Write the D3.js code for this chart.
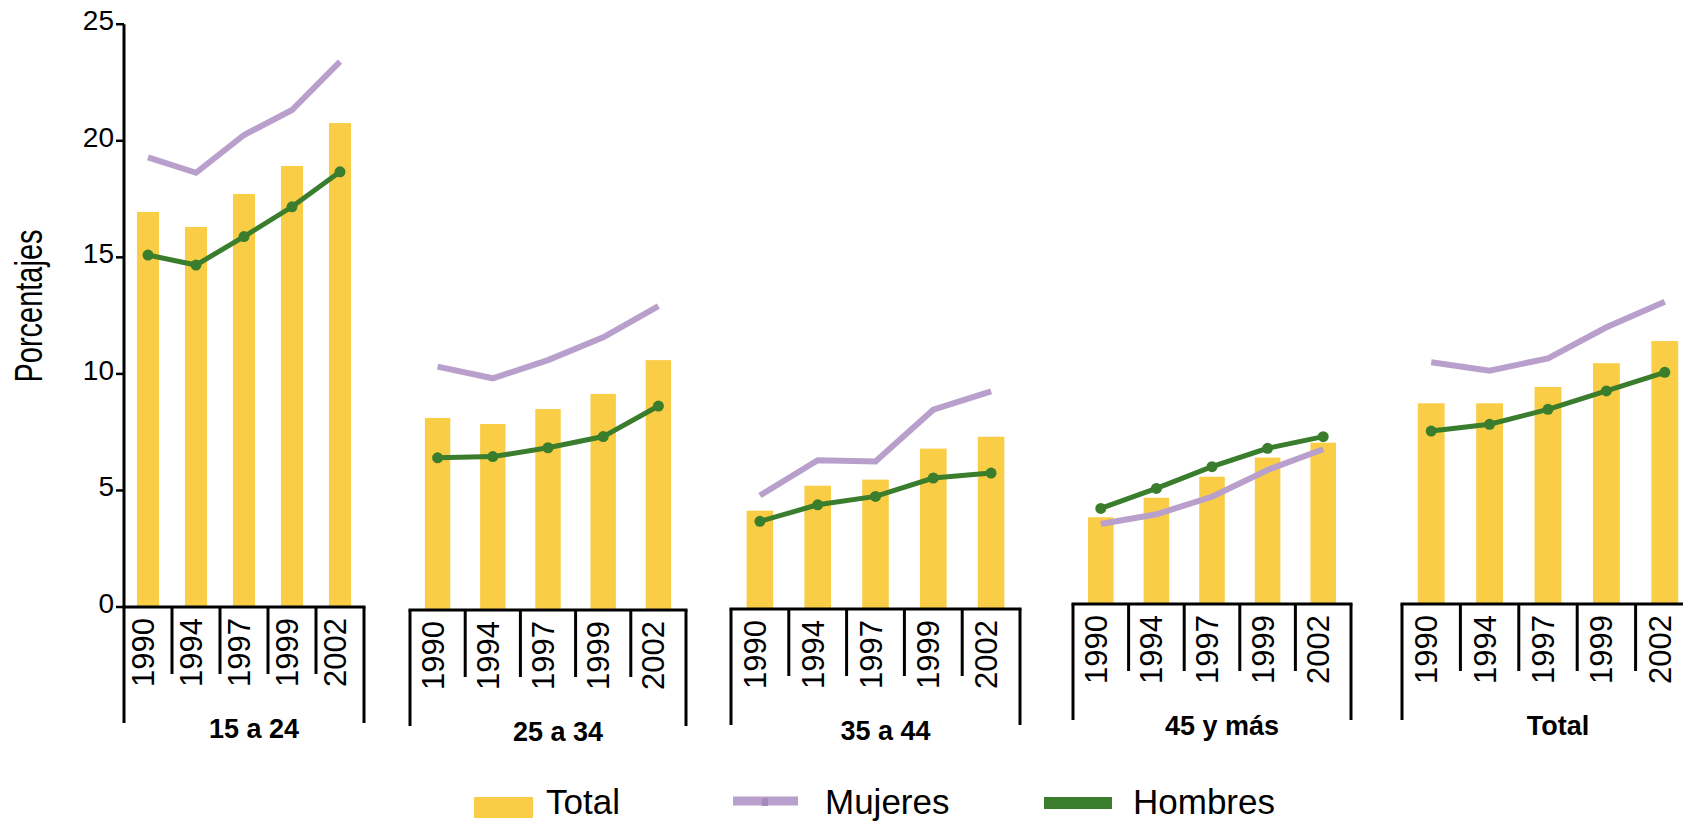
<!DOCTYPE html>
<html>
<head>
<meta charset="utf-8">
<script src="https://cdn.jsdelivr.net/npm/d3@7"></script>
<style>
  body { margin: 0; background: white; }
  text { font-family: "Liberation Sans", Arial, sans-serif; fill: black; }
</style>
</head>
<body>
<div id="main-section"></div>
<script>
const years = ["1990", "1994", "1997", "1999", "2002"];
const groups = ["15 a 24", "25 a 34", "35 a 44", "45 y más", "Total"];

const totalValues = [
  [16.95, 16.30, 17.72, 18.92, 20.76],
  [8.24, 7.98, 8.62, 9.27, 10.72],
  [4.22, 5.29, 5.55, 6.88, 7.39],
  [3.72, 4.56, 5.46, 6.28, 6.92],
  [8.61, 8.61, 9.31, 10.33, 11.28]
];
const mujeresValues = [
  [19.29, 18.63, 20.25, 21.32, 23.40],
  [10.44, 9.94, 10.72, 11.70, 13.04],
  [4.87, 6.38, 6.33, 8.55, 9.34],
  [3.43, 3.85, 4.60, 5.75, 6.64],
  [10.37, 10.01, 10.54, 11.87, 12.97]
];
const hombresValues = [
  [15.10, 14.67, 15.89, 17.17, 18.67],
  [6.53, 6.58, 6.96, 7.44, 8.75],
  [3.76, 4.47, 4.83, 5.62, 5.83],
  [4.10, 4.96, 5.89, 6.68, 7.18],
  [7.42, 7.71, 8.35, 9.14, 9.94]
];
const yTicks = [0, 5, 10, 15, 20, 25];
const legendLabels = ["Total", "Mujeres", "Hombres"];

// layout (pixels), one entry per panel -- the panels in the source are not evenly spaced
const panelLayout = [
  {x0: 124, x1: 364, base: 607},
  {x0: 410, x1: 686, base: 610},
  {x0: 731, x1: 1020, base: 609},
  {x0: 1073, x1: 1351, base: 604},
  {x0: 1402, x1: 1694, base: 604}
];
const W = 1683, H = 822;
const pxPerUnit = 23.31;
const colBar = "#f9cd46", colMuj = "#b9a0cc", colHom = "#3a7d2c";

const svg = d3.select("#main-section")
  .append("svg")
    .attr("width", W)
    .attr("height", H);

// y axis (drawn once, against first panel)
const yAxisScale = d3.scaleLinear()
  .domain([0, 25])
  .range([panelLayout[0].base, panelLayout[0].base - 25 * pxPerUnit]);

svg.append("line")
  .attr("x1", 124).attr("x2", 124)
  .attr("y1", yAxisScale(25)).attr("y2", yAxisScale(0))
  .attr("stroke", "black")
  .attr("stroke-width", 3);

svg.selectAll(".ytick")
  .data(yTicks).enter()
  .append("line")
    .attr("class", "ytick")
    .attr("x1", 116).attr("x2", 124)
    .attr("y1", function(d) { return yAxisScale(d); })
    .attr("y2", function(d) { return yAxisScale(d); })
    .attr("stroke", "black")
    .attr("stroke-width", 2.5);

svg.selectAll(".ylabel")
  .data(yTicks).enter()
  .append("text")
    .attr("class", "ylabel")
    .attr("x", 114)
    .attr("y", function(d) { return yAxisScale(d) + 6; })
    .attr("text-anchor", "end")
    .attr("font-size", 28)
    .text(function(d) { return d; });

svg.append("text")
  .attr("transform", "translate(42, 306) rotate(-90)")
  .attr("text-anchor", "middle")
  .attr("font-size", 38)
  .attr("textLength", 153)
  .attr("lengthAdjust", "spacingAndGlyphs")
  .text("Porcentajes");

// panels
groups.forEach(function(g, p) {
  const lay = panelLayout[p];
  const x = d3.scaleBand()
    .domain(years)
    .range([lay.x0, lay.x1])
    .paddingInner(0.54)
    .paddingOuter(0.27);
  const y = d3.scaleLinear()
    .domain([0, 25])
    .range([lay.base, lay.base - 25 * pxPerUnit]);
  const step = x.step();
  const cx = function(d, i) { return x(years[i]) + x.bandwidth() / 2; };

  const panel = svg.append("g").attr("class", "panel-" + p);

  panel.selectAll("rect")
    .data(totalValues[p]).enter()
    .append("rect")
      .attr("x", function(d, i) { return x(years[i]); })
      .attr("y", function(d) { return y(d); })
      .attr("width", x.bandwidth())
      .attr("height", function(d) { return y(0) - y(d); })
      .attr("fill", colBar);

  panel.append("path")
    .datum(mujeresValues[p])
    .attr("fill", "none")
    .attr("stroke", colMuj)
    .attr("stroke-width", 6)
    .attr("d", d3.line().x(cx).y(function(d) { return y(d); }));

  panel.append("path")
    .datum(hombresValues[p])
    .attr("fill", "none")
    .attr("stroke", colHom)
    .attr("stroke-width", 5)
    .attr("d", d3.line().x(cx).y(function(d) { return y(d); }));

  panel.selectAll("circle")
    .data(hombresValues[p]).enter()
    .append("circle")
      .attr("cx", cx)
      .attr("cy", function(d) { return y(d); })
      .attr("r", 5.5)
      .attr("fill", colHom);

  // bracket-style category axis
  panel.append("line")
    .attr("x1", lay.x0 - 1.5).attr("x2", lay.x1 + 1.5)
    .attr("y1", lay.base).attr("y2", lay.base)
    .attr("stroke", "black")
    .attr("stroke-width", 3);

  panel.selectAll(".divider")
    .data(d3.range(years.length + 1)).enter()
    .append("line")
      .attr("class", "divider")
      .attr("x1", function(i) { return lay.x0 + i * step; })
      .attr("x2", function(i) { return lay.x0 + i * step; })
      .attr("y1", lay.base)
      .attr("y2", function(i) { return (i === 0 || i === years.length) ? lay.base + 116 : lay.base + 67; })
      .attr("stroke", "black")
      .attr("stroke-width", 3);

  panel.selectAll(".year")
    .data(years).enter()
    .append("text")
      .attr("class", "year")
      .attr("transform", function(d, i) {
        return "translate(" + (cx(d, i) + 6) + "," + (lay.base + 11) + ") rotate(-90)";
      })
      .attr("text-anchor", "end")
      .attr("font-size", 31)
      .text(function(d) { return d; });

  panel.append("text")
    .attr("x", (lay.x0 + lay.x1) / 2 + 10)
    .attr("y", lay.base + 131)
    .attr("text-anchor", "middle")
    .attr("font-size", 27)
    .attr("font-weight", "bold")
    .text(g);
});

// legend
const legend = svg.append("g");
legend.append("rect")
  .attr("x", 474).attr("y", 797)
  .attr("width", 59).attr("height", 21)
  .attr("fill", colBar);
legend.append("line")
  .attr("x1", 733).attr("x2", 798)
  .attr("y1", 801).attr("y2", 801)
  .attr("stroke", colMuj)
  .attr("stroke-width", 9);
legend.append("rect")
  .attr("x", 762).attr("y", 798)
  .attr("width", 6).attr("height", 8)
  .attr("fill", "#a689bd");
legend.append("line")
  .attr("x1", 1044).attr("x2", 1112)
  .attr("y1", 803).attr("y2", 803)
  .attr("stroke", colHom)
  .attr("stroke-width", 12);

legend.selectAll("text")
  .data(legendLabels).enter()
  .append("text")
    .attr("x", function(d, i) { return [546, 825, 1133][i]; })
    .attr("y", 814)
    .attr("font-size", 35)
    .text(function(d) { return d; });
</script>
</body>
</html>
